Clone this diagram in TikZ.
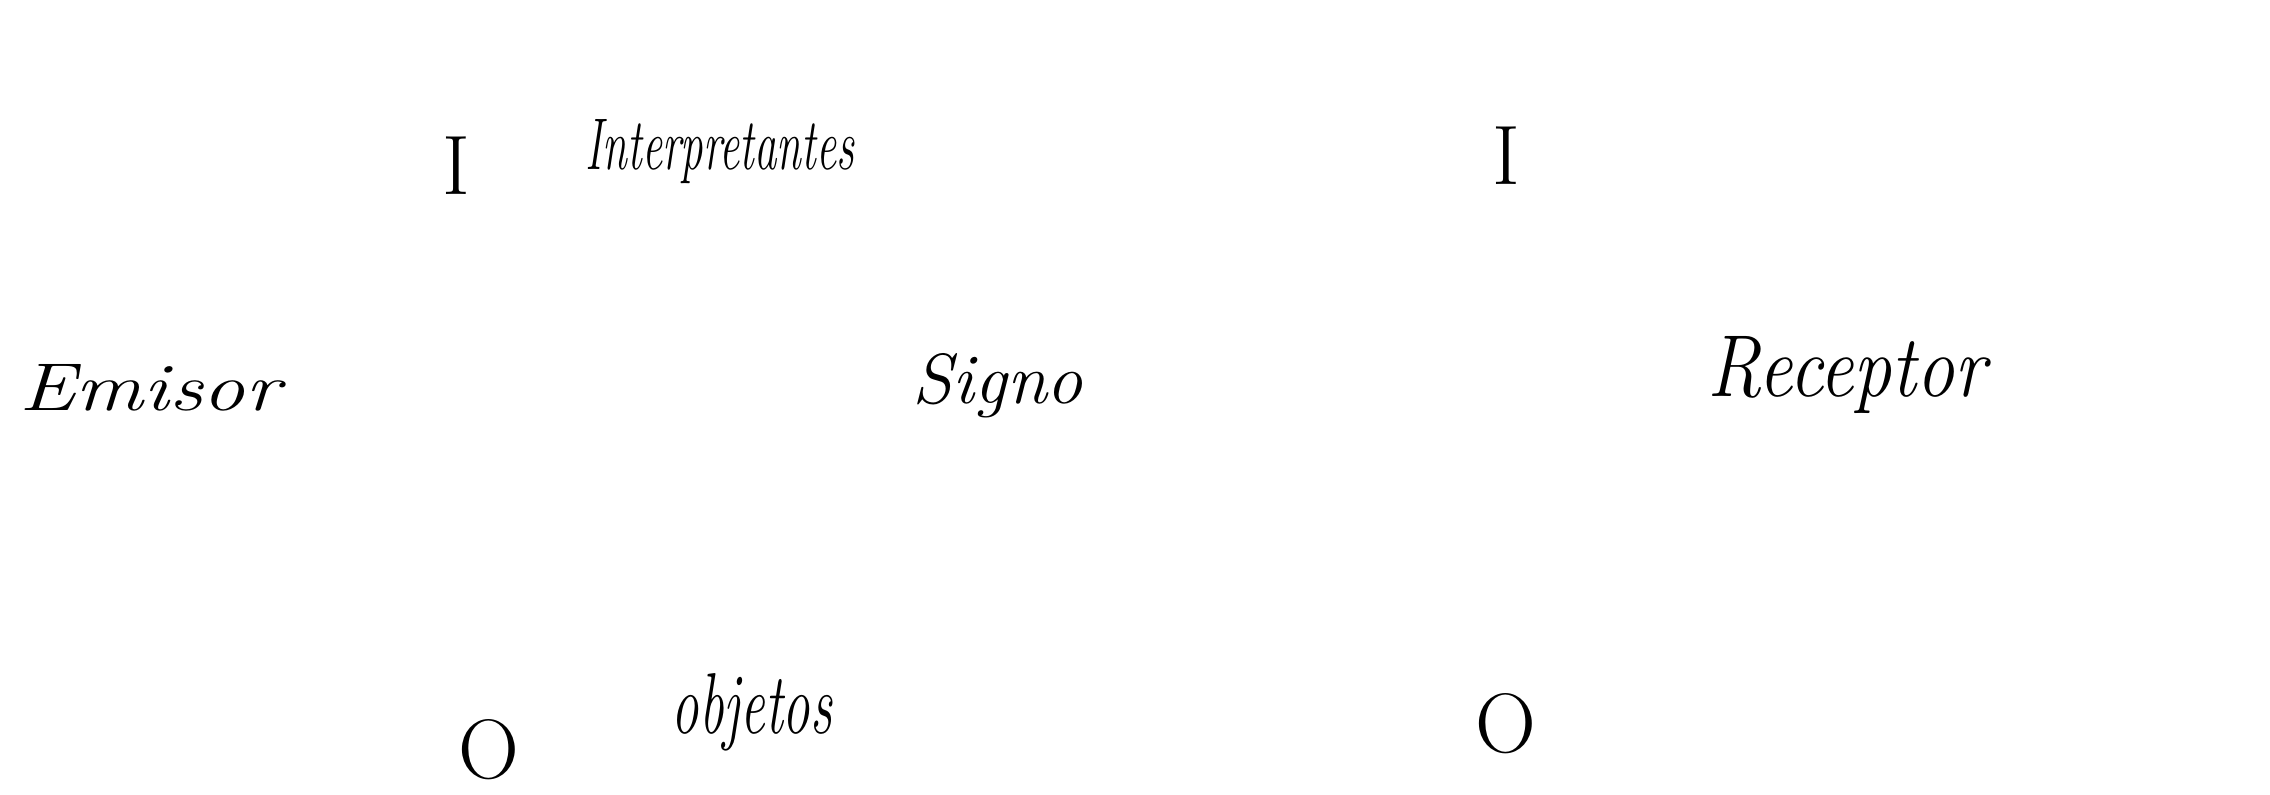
\documentclass[tikz,border=0pt]{standalone}
\usepackage{graphicx}
\begin{document}
\begin{tikzpicture}[x=0.01cm,y=-0.01cm,
  letter/.style={inner sep=0pt,font=\fontsize{24}{28}\selectfont},
  word/.style={inner sep=0pt,font=\fontsize{24}{28}\selectfont\itshape}]
\useasboundingbox[fill=white] (0,0) rectangle (2270,795);
% top row
\node[letter] (Itl) at (456,166) {I};
\node[word] (interp) at (720,152) {\resizebox{2.68cm}{0.5cm}{Interpretantes}};
\node[letter] (Itr) at (1506,156) {I};
% middle row
\node[word] (emisor) at (150,388) {\resizebox{2.6cm}{0.46cm}{Emisor}};
\node[word] (signo) at (998,386) {\resizebox{1.7cm}{0.5cm}{Signo}};
\node[word] (receptor) at (1847,375) {\resizebox{2.78cm}{0.6cm}{Receptor}};
% bottom row
\node[letter] (Obl) at (489,750) {O};
\node[word] (objetos) at (752,712) {\resizebox{1.6cm}{0.6cm}{objetos}};
\node[letter] (Obr) at (1506,724) {O};
\end{tikzpicture}
\end{document}
